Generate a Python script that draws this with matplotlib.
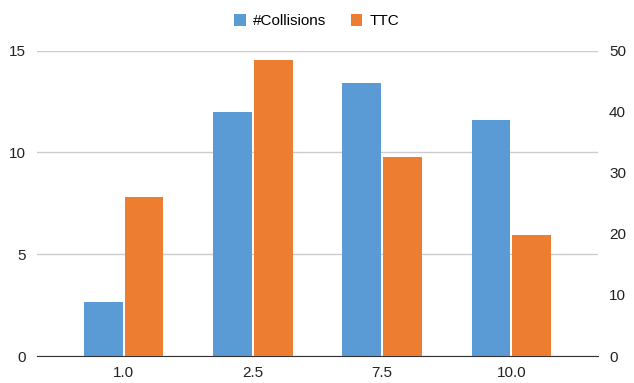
import matplotlib.pyplot as plt
import numpy as np

plt.rcParams["font.family"] = ["Liberation Sans", "DejaVu Sans"]

categories = ["1.0", "2.5", "7.5", "10.0"]
collisions = [2.65, 12.0, 13.4, 11.6]
ttc = [26.0, 48.4, 32.6, 19.8]

BLUE = "#5b9bd5"
ORANGE = "#ed7d31"

fig = plt.figure(figsize=(6.34, 3.83), dpi=100)
ax = fig.add_axes([37 / 634, 1 - 356 / 383, (598 - 37) / 634, (356 - 50.5) / 383])
ax2 = ax.twinx()

x = np.arange(len(categories))
width = 0.30
gap = 0.008
b1 = ax.bar(x - width / 2 - gap, collisions, width, color=BLUE, label="#Collisions", zorder=3)
b2 = ax2.bar(x + width / 2 + gap, ttc, width, color=ORANGE, label="TTC", zorder=3)

ax.set_xlim(-0.67, 3.67)
ax.set_ylim(0, 15)
ax2.set_ylim(0, 50)
ax.set_yticks([0, 5, 10, 15])
ax2.set_yticks([0, 10, 20, 30, 40, 50])
ax.set_xticks(x)
ax.set_xticklabels(categories)

ax.grid(axis="y", color="#cccccc", linewidth=1, zorder=0)
for a in (ax, ax2):
    for s in a.spines.values():
        s.set_visible(False)
    a.tick_params(length=0, labelsize=11, colors="#222222")
ax.spines["bottom"].set_visible(True)
ax.spines["bottom"].set_color("#333333")
ax.spines["bottom"].set_zorder(5)
ax.tick_params(axis="y", pad=8)
ax2.tick_params(axis="y", pad=8)
ax.tick_params(axis="x", pad=7)

fig.legend(handles=[b1, b2], loc="upper center", bbox_to_anchor=(0.5, 1.0),
           ncol=2, frameon=False, fontsize=11, handlelength=0.75, handleheight=0.9,
           columnspacing=1.6, handletextpad=0.5)

fig.savefig("out.png", dpi=100)
